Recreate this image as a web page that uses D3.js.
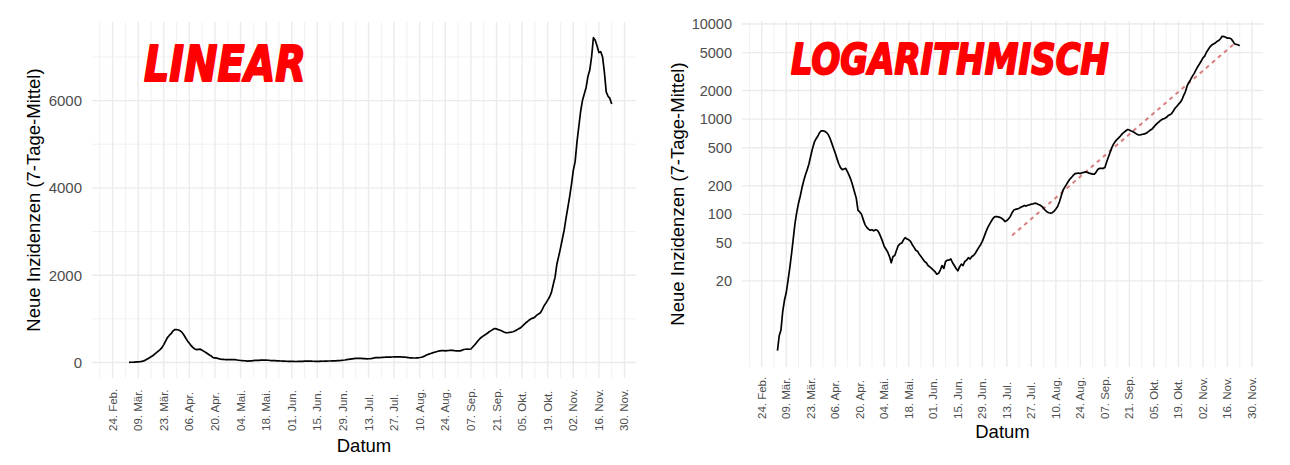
<!DOCTYPE html>
<html><head><meta charset="utf-8">
<script src="https://cdn.jsdelivr.net/npm/d3@7"></script>
<style>
html,body{margin:0;padding:0;background:#fff;}
svg{display:block;}
</style></head>
<body>
<svg id="chart" width="1290" height="465"></svg>
<script>
// ---------- DATA ----------
const firstDay = "2020-03-04";
// 7-day mean of new cases, one value per day from firstDay
const values = [
 3.7,5.3,6.1,9.5,12.5,15,20,27,38,55,80,105,130,155,190,225,260,295,340,410,
 490,570,620,660,720,755,755,745,725,690,630,560,495,440,385,340,310,295,300,305,
 280,255,229,200,172,148,110,106,100,88,78,73,70,68,69,67,69,68,64,58,
 52,46,43,40,36,31,36,37,42,47,49,50,54,57,55,54,52,48,45,42,
 41,38,36,34,32,31,29,28,27,26,25,23.5,24,26,29,27,32,33,33,34,
 31,29,27,25.5,28,30,29,32,33,35,34,36,37,39,42,45,48,52,58,65,
 72,78,84,90,94,95,94,93,91,88,84,86,90,95,104,111,113,114,116,119,
 121,124,122,125,126,128,129,131,130,127,125,121,116,110,106,104,103,104,108,114,
 121,135,155,178,192,205,220,235,245,258,268,270,272,268,274,276,280,276,271,268,
 265,265,278,298,304,305,304,310,355,400,450,505,550,585,615,640,670,705,730,755,
 778,770,752,740,720,700,685,682,690,695,705,720,745,770,790,830,870,910,940,975,
 1005,1015,1040,1085,1110,1140,1210,1300,1360,1430,1500,1600,1780,1950,2250,2430,2620,2830,3030,3300,
 3550,3800,4080,4400,4600,5050,5400,5750,6000,6150,6300,6550,6700,7000,7440,7380,7250,7100,7120,7000,
 6650,6200,6100,6050,5920
];
// exponential trend line endpoints (log panel)
const trendDates = ["2020-07-16", "2020-11-21"];
const trendValues = [60, 6470];

const xTickDates = ["2020-02-24","2020-03-09","2020-03-23","2020-04-06","2020-04-20","2020-05-04","2020-05-18","2020-06-01","2020-06-15","2020-06-29","2020-07-13","2020-07-27","2020-08-10","2020-08-24","2020-09-07","2020-09-21","2020-10-05","2020-10-19","2020-11-02","2020-11-16","2020-11-30"];
const xTickLabels = ["24. Feb.","09. Mär.","23. Mär.","06. Apr.","20. Apr.","04. Mai.","18. Mai.","01. Jun.","15. Jun.","29. Jun.","13. Jul.","27. Jul.","10. Aug.","24. Aug.","07. Sep.","21. Sep.","05. Okt.","19. Okt.","02. Nov.","16. Nov.","30. Nov."];
const linTicks = [0, 2000, 4000, 6000];
const linMinor = [1000, 3000, 5000, 7000];
const logTicks = [20, 50, 100, 200, 500, 1000, 2000, 5000, 10000];

const titleLinear = "LINEAR";
const titleLog = "LOGARITHMISCH";
const xTitle = "Datum";
const yTitle = "Neue Inzidenzen (7-Tage-Mittel)";

// ---------- PREP ----------
const parse = d3.utcParse("%Y-%m-%d");
const day0 = parse(firstDay);
const series = values.map((v, i) => ({date: d3.utcDay.offset(day0, i), value: v}));
const xDomain = [new Date(Date.UTC(2020,1,12,18)), new Date(Date.UTC(2020,11,6,7))];
const majorDates = xTickDates.map(parse);
const minorDates = majorDates.map(d => d3.utcDay.offset(d, -7)).concat([d3.utcDay.offset(majorDates[majorDates.length-1], 7)]);

const svg = d3.select("#chart");
const FONT = "'Liberation Sans', Arial, sans-serif";
const GRID = "#ebebeb";

function panel(cfg) {
  const g = svg.append("g");
  const x = d3.scaleUtc().domain(xDomain).range([cfg.left, cfg.right]);
  const y = cfg.y;
  const inX = d => x(d) >= cfg.left - 0.5 && x(d) <= cfg.right + 0.5;

  g.append("g").selectAll("line").data(minorDates.filter(inX)).join("line")
    .attr("x1", d => x(d)).attr("x2", d => x(d))
    .attr("y1", cfg.top).attr("y2", cfg.bottom)
    .attr("stroke", GRID).attr("stroke-width", 0.7);
  g.append("g").selectAll("line").data(cfg.minorY || []).join("line")
    .attr("x1", cfg.left).attr("x2", cfg.right)
    .attr("y1", d => y(d)).attr("y2", d => y(d))
    .attr("stroke", GRID).attr("stroke-width", 0.7);
  g.append("g").selectAll("line").data(cfg.ticksY).join("line")
    .attr("x1", cfg.left).attr("x2", cfg.right)
    .attr("y1", d => y(d)).attr("y2", d => y(d))
    .attr("stroke", GRID).attr("stroke-width", 1.4);
  g.append("g").selectAll("line").data(majorDates).join("line")
    .attr("x1", d => x(d)).attr("x2", d => x(d))
    .attr("y1", cfg.top).attr("y2", cfg.bottom)
    .attr("stroke", GRID).attr("stroke-width", 1.4);

  g.append("g").selectAll("text").data(cfg.ticksY).join("text")
    .attr("x", cfg.left - 10).attr("y", d => y(d))
    .attr("text-anchor", "end").attr("dominant-baseline", "central")
    .attr("font-family", FONT).attr("font-size", cfg.yFont).attr("fill", "#4d4d4d")
    .text(d => d);

  g.append("g").selectAll("text").data(majorDates).join("text")
    .attr("transform", d => `translate(${x(d)},${cfg.xLabelBottom}) rotate(-90)`)
    .attr("text-anchor", "start").attr("dominant-baseline", "central")
    .attr("font-family", FONT).attr("font-size", 11.5).attr("fill", "#4d4d4d")
    .text((d, i) => xTickLabels[i]);

  g.append("text").attr("x", (cfg.left + cfg.right) / 2).attr("y", cfg.xTitleY)
    .attr("text-anchor", "middle").attr("font-family", FONT).attr("font-size", 18.5)
    .attr("fill", "#000").text(xTitle);
  g.append("text")
    .attr("transform", `translate(${cfg.yTitleX},${(cfg.top + cfg.bottom) / 2}) rotate(-90)`)
    .attr("text-anchor", "middle").attr("dominant-baseline", "central")
    .attr("font-family", FONT).attr("font-size", 18.5).attr("fill", "#000").text(yTitle);

  if (cfg.trend) {
    const td = trendDates.map((d, i) => ({date: parse(d), value: trendValues[i]}));
    g.append("path").datum(td)
      .attr("d", d3.line().x(d => x(d.date)).y(d => y(d.value)))
      .attr("fill", "none").attr("stroke", "#cd5555").attr("stroke-opacity", 0.75)
      .attr("stroke-width", 2).attr("stroke-dasharray", "4,4");
  }

  g.append("path").datum(series)
    .attr("d", d3.line().x(d => x(d.date)).y(d => y(d.value)))
    .attr("fill", "none").attr("stroke", "#000").attr("stroke-width", 1.7)
    .attr("stroke-linejoin", "round");

  g.append("text").attr("x", cfg.titleX).attr("y", cfg.titleY)
    .attr("font-family", "'DejaVu Sans', sans-serif").attr("font-weight", "bold")
    .attr("font-style", "italic").attr("font-size", cfg.titleSize).attr("fill", "#ff0000")
    .attr("stroke", "#ff0000").attr("stroke-width", 2).attr("stroke-linejoin", "round")
    .attr("textLength", cfg.titleW).attr("lengthAdjust", "spacingAndGlyphs")
    .text(cfg.title);
}

panel({
  left: 92, right: 636, top: 22, bottom: 378,
  y: d3.scaleLinear().domain([-355, 7800]).range([378, 22]),
  ticksY: linTicks, minorY: linMinor, yFont: 15,
  xLabelBottom: 431, xTitleY: 452, yTitleX: 33,
  title: titleLinear, titleX: 144, titleY: 81, titleSize: 50, titleW: 162
});
panel({
  left: 742, right: 1263, top: 21, bottom: 367,
  y: d3.scaleLog().domain([2.49, 10750]).range([367, 21]),
  ticksY: logTicks, yFont: 14.5,
  xLabelBottom: 419, xTitleY: 438, yTitleX: 677, trend: true,
  title: titleLog, titleX: 791, titleY: 74, titleSize: 42, titleW: 318
});
</script>
</body></html>
